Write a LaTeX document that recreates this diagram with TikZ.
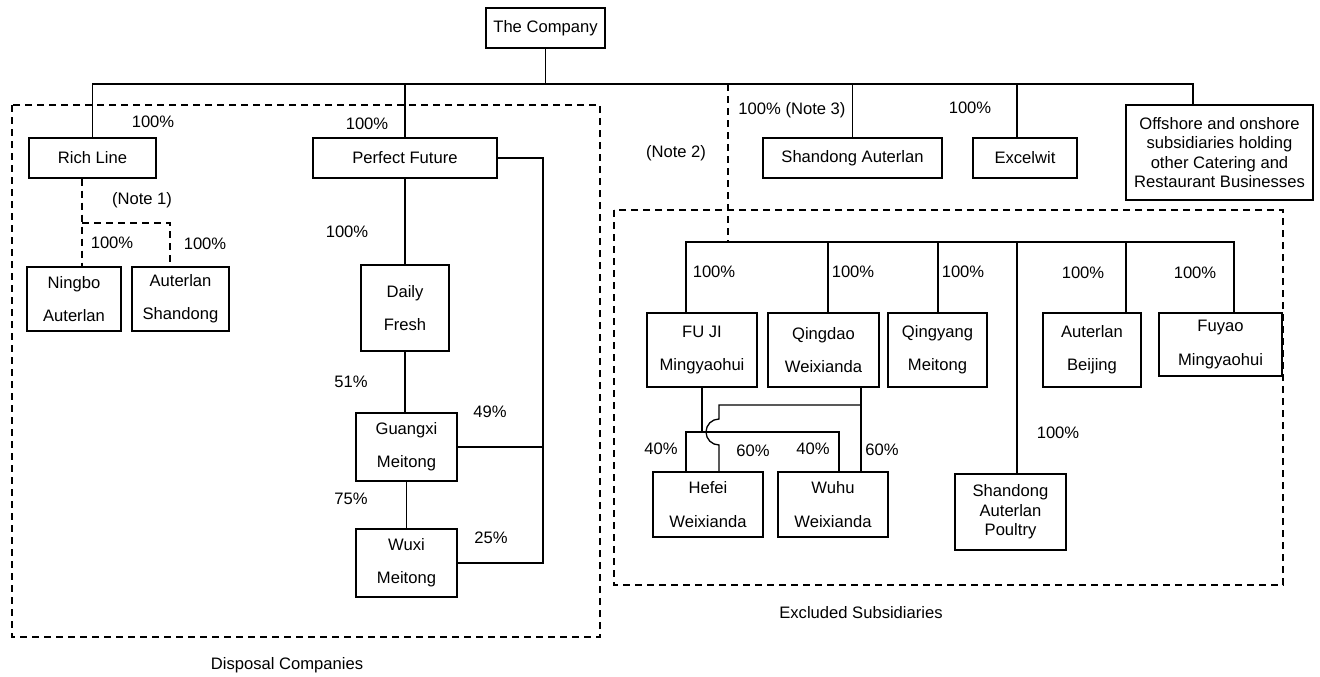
\documentclass[tikz,border=0pt]{standalone}
\usepackage{fontspec}
\setmainfont{Liberation Sans}
\usepackage{tikz}
\usetikzlibrary{positioning,calc}
\newcommand{\orgfont}{\fontsize{16.6}{19.3}\selectfont}

\begin{document}
\begin{tikzpicture}[x=1pt,y=-1pt,
  firm/.style={draw,line width=1.3pt,inner sep=0pt,align=center,font=\orgfont},
  pct/.style={inner sep=0pt,font=\orgfont},
  link/.style={line width=1.3pt},
  note/.style={line width=1.3pt,dash pattern=on 7pt off 5pt}]
\useasboundingbox (0,0) rectangle (1320,677);
% Boxes, placed at pixel centres of the chart.
\node[firm,minimum width=119pt,minimum height=40pt] (company) at (545.5,28) {The Company};
\node[firm,minimum width=127pt,minimum height=40pt] (richline) at (92.5,158) {Rich Line};
\node[firm,minimum width=184pt,minimum height=40pt] (pfuture) at (405,158) {Perfect Future};
\node[firm,minimum width=179pt,minimum height=40pt] (sdauterlan) at (852.5,158) {Shandong Auterlan};
\node[firm,minimum width=104pt,minimum height=40pt] (excelwit) at (1025,158) {Excelwit};
\node[firm,minimum width=187pt,minimum height=95pt] (offshore) at (1219.5,152.5) {Offshore and onshore\\subsidiaries holding\\other Catering and\\Restaurant Businesses};
\node[firm,minimum width=94pt,minimum height=64pt] (ningbo) at (74,299) {Ningbo\\[14pt]Auterlan};
\node[firm,minimum width=97pt,minimum height=64pt] (ashandong) at (180.5,299) {Auterlan\\[14pt]Shandong};
\node[firm,minimum width=88pt,minimum height=86pt] (dailyfresh) at (405,308) {Daily\\[14pt]Fresh};
\node[firm,minimum width=101pt,minimum height=68pt] (guangxi) at (406.5,447) {Guangxi\\[14pt]Meitong};
\node[firm,minimum width=101pt,minimum height=68pt] (wuxi) at (406.5,563) {Wuxi\\[14pt]Meitong};
\node[firm,minimum width=110pt,minimum height=74pt] (fuji) at (702,350) {FU JI\\[14pt]Mingyaohui};
\node[firm,minimum width=111pt,minimum height=74pt] (qingdao) at (823.5,350) {Qingdao\\[14pt]Weixianda};
\node[firm,minimum width=99pt,minimum height=74pt] (qingyang) at (937.5,350) {Qingyang\\[14pt]Meitong};
\node[firm,minimum width=98pt,minimum height=74pt] (beijing) at (1092,350) {Auterlan\\[14pt]Beijing};
\node[firm,minimum width=123pt,minimum height=63pt] (fuyao) at (1220.5,344.5) {Fuyao\\[14pt]Mingyaohui};
\node[firm,minimum width=111pt,minimum height=76pt] (poultry) at (1010.5,512) {Shandong\\Auterlan\\Poultry};
\node[firm,minimum width=110pt,minimum height=65pt] (hefei) at (708,504.5) {Hefei\\[14pt]Weixianda};
\node[firm,minimum width=110pt,minimum height=65pt] (wuhu) at (833,504.5) {Wuhu\\[14pt]Weixianda};

% Groups
\draw[note] (12,105) rectangle (600,637);
\draw[note] (614,210) rectangle (1283,585);
\node[pct] (disposal) at (287,665) {Disposal Companies};
\node[pct] (excluded) at (861,613) {Excluded Subsidiaries};

% Top level
\coordinate (busL) at (92.5,84);
\coordinate (busR) at (1193,84);
\coordinate (xw) at (1017,84);
\coordinate (n2) at (728,84);
\draw[link] (company) -- (company |- busL);
\draw[link] (richline) |- (busR) -- (busR |- offshore.north);
\draw[link] (pfuture) -- (pfuture |- busL);
\draw[link] (sdauterlan) -- (sdauterlan |- busL);
\draw[link] (xw) -- (xw |- excelwit.north);

% Rich Line
\coordinate (n1) at (82,223);
\coordinate (n1r) at (170,223);
\draw[note] (n1 |- richline.south) -- (n1) -- (n1 |- ningbo.north);
\draw[note] (n1) -- (n1r) -- (n1r |- ashandong.north);

% Perfect Future
\coordinate (rail) at (543,563);
\draw[link] (pfuture) -- (dailyfresh);
\draw[link] (dailyfresh.south) -- (dailyfresh.south |- guangxi.north);
\draw[link] (guangxi) -- (wuxi);
\draw[link] (pfuture.east) -| (rail) -- (wuxi.east);
\draw[link] (guangxi.east) -- (guangxi.east -| rail);

% Excluded subsidiaries
\coordinate (ebusL) at (686,242);
\coordinate (ebusR) at (1234,242);
\draw[note] (n2) -- (n2 |- ebusL);
\draw[link] (fuji.north -| ebusL) -- (ebusL) -- (ebusR) -- (ebusR |- fuyao.north);
\foreach \c/\x in {qingdao/828,qingyang/938,poultry/1017,beijing/1126} {
  \coordinate (d\c) at (\x,242);
  \draw[link] (d\c) -- (d\c |- \c.north);
}
\coordinate (hfL) at (686,432);
\coordinate (whR) at (839,432);
\coordinate (qd) at (861,405);
\coordinate (hop) at (719,405);
\draw[link] (fuji) -- (fuji |- hfL);
\draw[link] (hfL |- hefei.north) -- (hfL) -- (whR) -- (whR |- wuhu.north);
\draw[link] (qd |- qingdao.south) -- (qd |- wuhu.north);
\draw[link] (qd) -- (hop) -- ++(0,14) arc[start angle=270,end angle=90,radius=13] -- (hop |- hefei.north);

% Shares
\node[pct] (prich) at (153,122) {100\%};
\node[pct] (ppf) at (367,124) {100\%};
\node[pct] (note1) at (142,200) {(Note 1)};
\node[pct] (pnb) at (112,243) {100\%};
\node[pct] (pas) at (205,244) {100\%};
\node[pct] (pdf) at (347,232) {100\%};
\node[pct] (p51) at (351,382) {51\%};
\node[pct] (p49) at (490,412) {49\%};
\node[pct] (p75) at (351,499) {75\%};
\node[pct] (p25) at (491,538) {25\%};
\node[pct] (note2) at (676,153) {(Note 2)};
\node[pct] (note3) at (792,110) {100\% (Note 3)};
\node[pct] (pxw) at (970,108) {100\%};
\node[pct] (pfj) at (714,272) {100\%};
\node[pct] (pqd) at (853,272) {100\%};
\node[pct] (pqy) at (963,272) {100\%};
\node[pct] (pbj) at (1083,273) {100\%};
\node[pct] (pfy) at (1195,273) {100\%};
\node[pct] (ppl) at (1058,433) {100\%};
\node[pct] (p40a) at (661,449) {40\%};
\node[pct] (p60a) at (753,451) {60\%};
\node[pct] (p40b) at (813,449) {40\%};
\node[pct] (p60b) at (882,450) {60\%};
\end{tikzpicture}
\end{document}
